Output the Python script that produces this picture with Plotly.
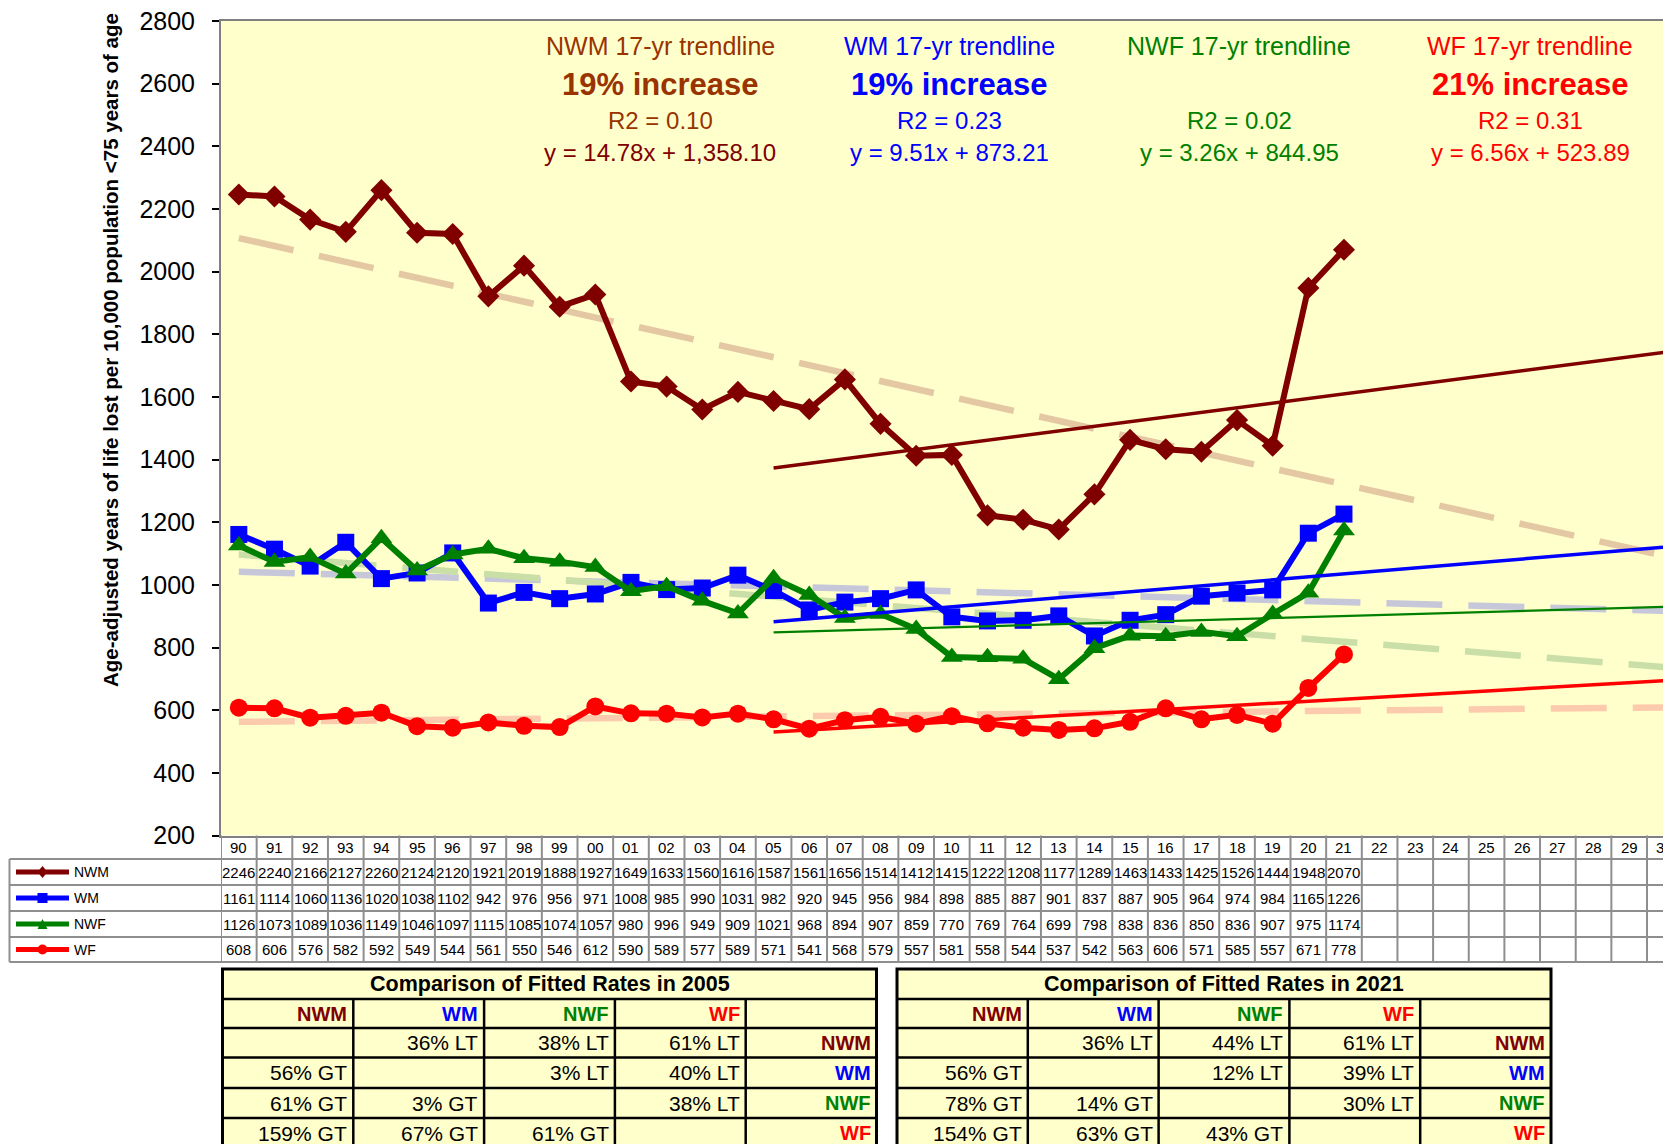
import numpy as np
import plotly.graph_objects as go

# ---------------- data ----------------
years = ["90", "91", "92", "93", "94", "95", "96", "97", "98", "99",
         "00", "01", "02", "03", "04", "05", "06", "07", "08", "09",
         "10", "11", "12", "13", "14", "15", "16", "17", "18", "19",
         "20", "21", "22", "23", "24", "25", "26", "27", "28", "29", "30"]

nwm = [2246, 2240, 2166, 2127, 2260, 2124, 2120, 1921, 2019, 1888,
       1927, 1649, 1633, 1560, 1616, 1587, 1561, 1656, 1514, 1412,
       1415, 1222, 1208, 1177, 1289, 1463, 1433, 1425, 1526, 1444, 1948, 2070]
wm = [1161, 1114, 1060, 1136, 1020, 1038, 1102, 942, 976, 956,
      971, 1008, 985, 990, 1031, 982, 920, 945, 956, 984,
      898, 885, 887, 901, 837, 887, 905, 964, 974, 984, 1165, 1226]
nwf = [1126, 1073, 1089, 1036, 1149, 1046, 1097, 1115, 1085, 1074,
       1057, 980, 996, 949, 909, 1021, 968, 894, 907, 859,
       770, 769, 764, 699, 798, 838, 836, 850, 836, 907, 975, 1174]
wf = [608, 606, 576, 582, 592, 549, 544, 561, 550, 546,
      612, 590, 589, 577, 589, 571, 541, 568, 579, 557,
      581, 558, 544, 537, 542, 563, 606, 571, 585, 557, 671, 778]

series_names = ["NWM", "WM", "NWF", "WF"]
series_values = [nwm, wm, nwf, wf]

trend_titles = ["NWM 17-yr trendline", "WM 17-yr trendline", "NWF 17-yr trendline", "WF 17-yr trendline"]
trend_changes = ["19% increase", "19% increase", "", "21% increase"]
trend_r2 = ["R2 = 0.10", "R2 = 0.23", "R2 = 0.02", "R2 = 0.31"]
trend_eqs = ["y = 14.78x + 1,358.10", "y = 9.51x + 873.21", "y = 3.26x + 844.95", "y = 6.56x + 523.89"]

cmp_titles = ["Comparison of Fitted Rates in 2005", "Comparison of Fitted Rates in 2021"]
cmp_2005 = [["", "36% LT", "38% LT", "61% LT"],
            ["56% GT", "", "3% LT", "40% LT"],
            ["61% GT", "3% GT", "", "38% LT"],
            ["159% GT", "67% GT", "61% GT", ""]]
cmp_2021 = [["", "36% LT", "44% LT", "61% LT"],
            ["56% GT", "", "12% LT", "39% LT"],
            ["78% GT", "14% GT", "", "30% LT"],
            ["154% GT", "63% GT", "43% GT", ""]]
cmp_tables = [cmp_2005, cmp_2021]

# ---------------- styles ----------------
series_colors = ["#800000", "#0000FF", "#008000", "#FF0000"]
dash_colors = ["#E4C8A3", "#C6C8DA", "#CADFA8", "#FCCBAE"]
symbols = ["diamond", "square", "triangle-up", "circle"]
marker_sizes = [17, 17, 19, 18]
trend_widths = [3.5, 3.5, 2.2, 3.5]
title_colors = ["#993300", "#0000FF", "#008000", "#FF0000"]
eq_colors = ["#800000", "#0000FF", "#008000", "#FF0000"]
FONT = "Liberation Sans, Arial, sans-serif"

W, H = 1671, 1144
OFF = 8          # page offset of the figure
PL, PT, PB = 221, 21, 835.5
COLW = 35.65


def X(px):
    return (px - OFF) / W


def Y(py):
    return 1 - (py - OFF) / H


def pann(px, py, text, size, color, xanchor="center", **kw):
    d = dict(x=X(px), y=Y(py), xref="paper", yref="paper", text=text, showarrow=False,
             xanchor=xanchor, yanchor="middle",
             font=dict(family=FONT, size=size, color=color))
    d.update(kw)
    return d


fig = go.Figure()

n_data = len(nwm)
idx_all = np.arange(len(years))

# long-term dashed trendlines (1990-2021 fit, projected to 2030)
for vals, c in zip(series_values, dash_colors):
    p = np.polyfit(np.arange(n_data), np.array(vals, float), 1)
    fig.add_trace(go.Scatter(x=years, y=np.polyval(p, idx_all), mode="lines",
                             line=dict(color=c, width=6.5, dash="56px,26px"),
                             hoverinfo="skip"))

# data series
for name, vals, c, s, ms in zip(series_names, series_values, series_colors, symbols, marker_sizes):
    fig.add_trace(go.Scatter(x=years[:n_data], y=vals, mode="lines+markers", name=name,
                             line=dict(color=c, width=6),
                             marker=dict(symbol=s, size=ms, color=c, line=dict(width=0))))

# 17-yr solid trendlines (2005-2021 fit, projected to 2030)
start = years.index("05")
for vals, c, w in zip(series_values, series_colors, trend_widths):
    xs = np.arange(1, n_data - start + 1)
    p = np.polyfit(xs, np.array(vals[start:], float), 1)
    xe = idx_all[start:] - start + 1
    fig.add_trace(go.Scatter(x=years[start:], y=np.polyval(p, xe), mode="lines",
                             line=dict(color=c, width=w), hoverinfo="skip"))

shapes = []
anns = []

# trend annotations
centers = [660, 949, 1239, 1530]
for i in range(4):
    cx = centers[i]
    anns.append(pann(cx, 46, trend_titles[i], 25, title_colors[i]))
    if trend_changes[i]:
        anns.append(pann(cx, 84, "<b>" + trend_changes[i] + "</b>", 31, title_colors[i]))
    anns.append(pann(cx, 120.5, trend_r2[i], 24, title_colors[i]))
    anns.append(pann(cx, 152.5, trend_eqs[i], 24, eq_colors[i]))

# y axis title
anns.append(pann(110, 350, "<b>Age-adjusted years of life lost per 10,000 population &lt;75 years of age</b>",
                 20.5, "black", textangle=-90))

# ---------------- data table ----------------
GRID = "#8E8E8E"
row_edges = [835.5, 859, 885, 911, 937, 962]
for ye in row_edges[1:]:
    shapes.append(dict(type="line", xref="paper", yref="paper", x0=X(9.5), x1=1, y0=Y(ye), y1=Y(ye),
                       line=dict(color=GRID, width=2)))
for k in range(len(years) + 1):
    shapes.append(dict(type="line", xref="x", yref="paper", x0=k - 0.5, x1=k - 0.5,
                       y0=Y(row_edges[0]), y1=Y(row_edges[-1]), line=dict(color=GRID, width=2)))
shapes.append(dict(type="line", xref="paper", yref="paper", x0=X(9.5), x1=X(9.5),
                   y0=Y(row_edges[1]), y1=Y(row_edges[-1]), line=dict(color=GRID, width=2)))

hdr_y = (row_edges[0] + row_edges[1]) / 2
for k, yl in enumerate(years):
    anns.append(dict(x=k, xref="x", y=Y(hdr_y), yref="paper", text=yl, showarrow=False,
                     xanchor="center", yanchor="middle",
                     font=dict(family=FONT, size=15, color="black")))

for r, (name, vals, c, s) in enumerate(zip(series_names, series_values, series_colors, symbols)):
    cy = (row_edges[r + 1] + row_edges[r + 2]) / 2
    for k, v in enumerate(vals):
        anns.append(dict(x=k, xref="x", y=Y(cy), yref="paper", text=str(v), showarrow=False,
                         xanchor="center", yanchor="middle",
                         font=dict(family=FONT, size=15, color="black")))
    # legend key
    shapes.append(dict(type="line", xref="paper", yref="paper", x0=X(16), x1=X(69), y0=Y(cy), y1=Y(cy),
                       line=dict(color=c, width=5)))
    mx, r_ = 42.5, 5
    if s == "diamond":
        path = "M {} {} L {} {} L {} {} L {} {} Z".format(X(mx - r_), Y(cy), X(mx), Y(cy - r_ - 1),
                                                          X(mx + r_), Y(cy), X(mx), Y(cy + r_ + 1))
        shapes.append(dict(type="path", xref="paper", yref="paper", path=path, fillcolor=c, line=dict(width=0)))
    elif s == "square":
        shapes.append(dict(type="rect", xref="paper", yref="paper", x0=X(mx - r_), x1=X(mx + r_),
                           y0=Y(cy - r_), y1=Y(cy + r_), fillcolor=c, line=dict(width=0)))
    elif s == "triangle-up":
        path = "M {} {} L {} {} L {} {} Z".format(X(mx - r_), Y(cy + r_), X(mx), Y(cy - r_), X(mx + r_), Y(cy + r_))
        shapes.append(dict(type="path", xref="paper", yref="paper", path=path, fillcolor=c, line=dict(width=0)))
    else:
        shapes.append(dict(type="circle", xref="paper", yref="paper", x0=X(mx - r_), x1=X(mx + r_),
                           y0=Y(cy - r_), y1=Y(cy + r_), fillcolor=c, line=dict(width=0)))
    anns.append(pann(72, cy, name, 14, "black", xanchor="left"))

# ---------------- comparison tables ----------------
tab_x0 = [222.5, 897]
TCW = 130.8
trow = [969, 999, 1028, 1057.5, 1088, 1118, 1152]
for t in range(2):
    x0 = tab_x0[t]
    x1 = x0 + 5 * TCW
    shapes.append(dict(type="rect", xref="paper", yref="paper", x0=X(x0), x1=X(x1), y0=Y(trow[0]), y1=Y(trow[-1]),
                       fillcolor="#FFFFCC", line=dict(color="black", width=3), layer="below"))
    for ye in trow[1:-1]:
        shapes.append(dict(type="line", xref="paper", yref="paper", x0=X(x0), x1=X(x1), y0=Y(ye), y1=Y(ye),
                           line=dict(color="black", width=2.5)))
    for k in range(1, 5):
        xx = x0 + k * TCW
        shapes.append(dict(type="line", xref="paper", yref="paper", x0=X(xx), x1=X(xx), y0=Y(trow[1]), y1=Y(trow[-1]),
                           line=dict(color="black", width=2.5)))
    anns.append(pann((x0 + x1) / 2, (trow[0] + trow[1]) / 2, "<b>" + cmp_titles[t] + "</b>", 21.5, "black"))
    for k in range(4):
        anns.append(pann(x0 + (k + 1) * TCW - 4, (trow[1] + trow[2]) / 2, "<b>" + series_names[k] + "</b>",
                         20, series_colors[k], xanchor="right"))
    tbl = cmp_tables[t]
    for r in range(4):
        cy = (trow[r + 2] + trow[r + 3]) / 2 if r < 3 else trow[r + 2] + 15
        for k in range(4):
            if tbl[r][k]:
                anns.append(pann(x0 + (k + 1) * TCW - 4, cy, tbl[r][k], 21, "black", xanchor="right"))
        anns.append(pann(x0 + 5 * TCW - 4, cy, "<b>" + series_names[r] + "</b>", 20, series_colors[r],
                         xanchor="right"))

fig.update_layout(
    width=W, height=H, autosize=False,
    margin=dict(l=0, r=0, t=0, b=0, pad=0),
    paper_bgcolor="white",
    plot_bgcolor="#FFFFCC",
    showlegend=False,
    font=dict(family=FONT, color="black"),
    shapes=shapes,
    annotations=anns,
    xaxis=dict(type="category", categoryorder="array", categoryarray=years,
               range=[-0.5, -0.5 + (W - (PL - OFF)) / COLW], domain=[(PL - OFF) / W, 1],
               showticklabels=False, ticks="", showgrid=False, zeroline=False, automargin=False,
               showline=True, mirror=True, linecolor="#808080", linewidth=2),
    yaxis=dict(range=[200, 2800], domain=[1 - (PB - OFF) / H, 1 - (PT - OFF) / H], automargin=False,
               tickvals=list(range(200, 2801, 200)), ticks="outside", ticklen=7,
               tickcolor="black", tickwidth=1.5, showgrid=False, zeroline=False,
               showline=True, linecolor="#808080", linewidth=2, ticklabeloverflow="allow",
               tickfont=dict(family=FONT, size=25, color="black"), ticklabelstandoff=12),
)

fig.write_html("out.html")
